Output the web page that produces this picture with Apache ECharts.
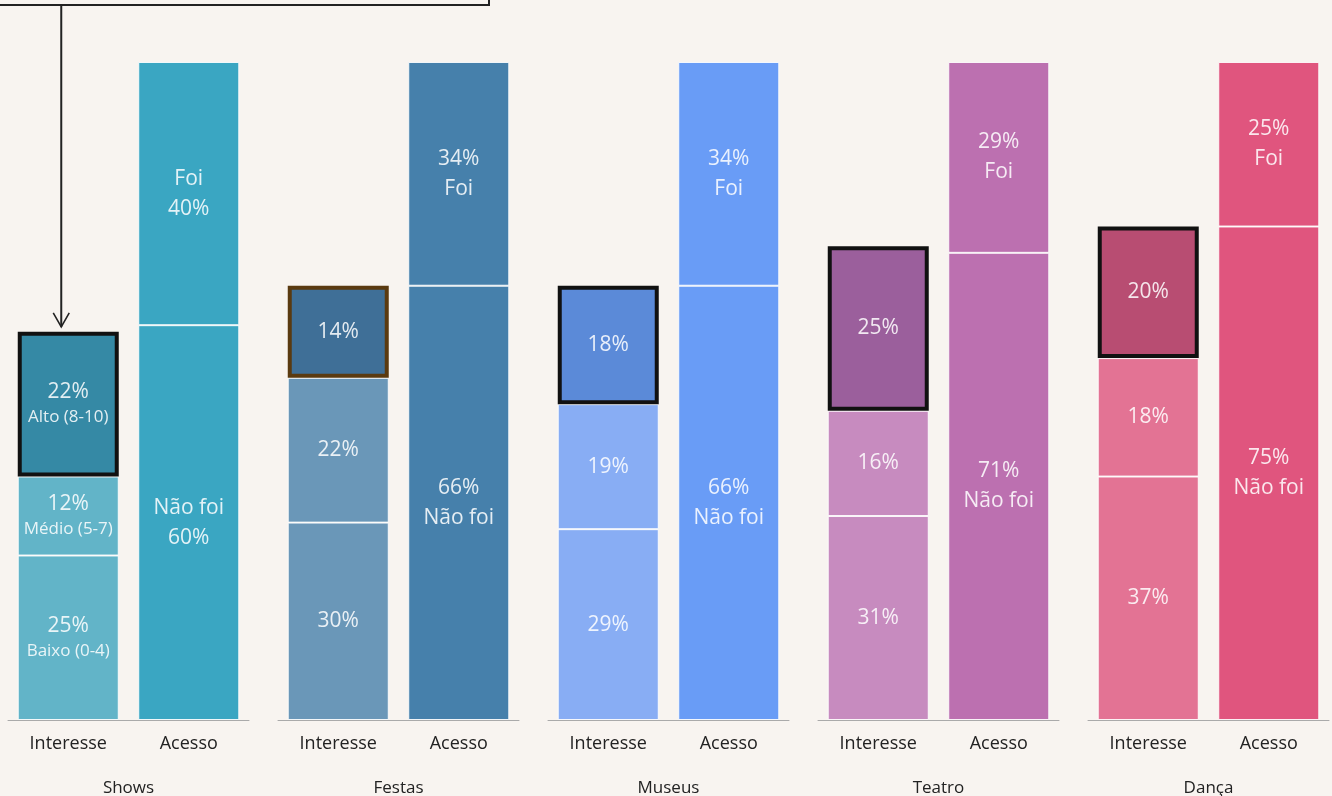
<!DOCTYPE html>
<html>
<head>
<meta charset="utf-8">
<style>
  html, body { margin: 0; padding: 0; background: #f8f4f0; }
  #chart { width: 1332px; height: 796px; }
</style>
<script src="https://cdn.jsdelivr.net/npm/echarts@6/dist/echarts.min.js"></script>
</head>
<body>
<div id="chart"></div>
<script>
// Culture activities: interest level vs. actual access
const groups = ['Shows', 'Festas', 'Museus', 'Teatro', 'Dança'];
const barNames = ['Interesse', 'Acesso'];
const levelNames = ['Baixo (0-4)', 'Médio (5-7)', 'Alto (8-10)'];
const interesseBaixo = [25, 30, 29, 31, 37];
const interesseMedio = [12, 22, 19, 16, 18];
const interesseAlto = [22, 14, 18, 25, 20];
const acessoNaoFoi = [60, 66, 66, 71, 75];
const acessoFoi = [40, 34, 34, 29, 25];

// palette per activity: [low/medium interest, high interest, access]
const palette = [
  ['#62b4c8', '#3589a5', '#3aa6c2'],
  ['#6a97b8', '#3f6f97', '#4680ab'],
  ['#88adf4', '#5b8ad8', '#699cf6'],
  ['#c78bbf', '#9b5f9c', '#bc70b0'],
  ['#e37394', '#b84d72', '#e0557e']
];
const highlightBorder = ['#111111', '#5a3a10', '#111111', '#111111', '#111111'];

const FONT = '"Open Sans", "Noto Sans", sans-serif';
const labelColor = 'rgba(255,255,255,0.86)';
const sepColor = 'rgba(255,255,255,0.85)';

const chart = echarts.init(document.getElementById('chart'), null, { renderer: 'canvas' });

const grids = [], xAxes = [], yAxes = [], series = [];
groups.forEach((g, i) => {
  grids.push({ left: 8 + i * 270, width: 241, top: 62, bottom: 76, outerBoundsMode: 'none', containLabel: false });
  xAxes.push({
    gridIndex: i, type: 'category', data: barNames,
    name: g, nameLocation: 'middle', nameGap: 60,
    nameTextStyle: { fontFamily: FONT, fontSize: 17, color: '#222' },
    axisLine: { lineStyle: { color: '#aaa', width: 1 } },
    axisTick: { show: false },
    axisLabel: { fontFamily: FONT, fontSize: 18, color: '#222', margin: 15 }
  });
  yAxes.push({
    gridIndex: i, type: 'value', min: 0, max: 100,
    show: false, splitLine: { show: false }
  });

  const pct = v => v + '%';
  const rich = {
    p: { fontFamily: FONT, fontSize: 21, color: labelColor, lineHeight: 26 },
    s: { fontFamily: FONT, fontSize: 17, color: labelColor, lineHeight: 24 },
    a: { fontFamily: FONT, fontSize: 21, color: labelColor, lineHeight: 30 }
  };
  const interestLabel = lvl => p => (i === 0)
    ? '{p|' + pct(p.value) + '}\n{s|' + levelNames[lvl] + '}'
    : '{p|' + pct(p.value) + '}';
  const accessLabel = name => p => (i === 0)
    ? '{a|' + name + '}\n{a|' + pct(p.value) + '}'
    : '{a|' + pct(p.value) + '}\n{a|' + name + '}';

  const base = {
    type: 'bar', xAxisIndex: i, yAxisIndex: i, stack: 'g' + i,
    barWidth: 101, barGap: '0%', animation: false,
    label: { show: true, position: 'inside', rich: rich }
  };
  const seg = (val, color, border, bw) => ({
    value: val,
    itemStyle: { color: color, borderColor: border, borderWidth: bw }
  });

  series.push(Object.assign({}, base, {
    name: levelNames[0],
    data: [seg(interesseBaixo[i], palette[i][0], sepColor, 1), '-'],
    label: Object.assign({}, base.label, { formatter: interestLabel(0) })
  }));
  series.push(Object.assign({}, base, {
    name: levelNames[1],
    data: [seg(interesseMedio[i], palette[i][0], sepColor, 1), '-'],
    label: Object.assign({}, base.label, { formatter: interestLabel(1) })
  }));
  series.push(Object.assign({}, base, {
    name: levelNames[2], z: 5,
    data: [seg(interesseAlto[i], palette[i][1], highlightBorder[i], 4), '-'],
    label: Object.assign({}, base.label, { formatter: interestLabel(2) })
  }));
  series.push(Object.assign({}, base, {
    name: 'Não foi',
    data: ['-', seg(acessoNaoFoi[i], palette[i][2], sepColor, 1)],
    label: Object.assign({}, base.label, { formatter: accessLabel('Não foi') })
  }));
  series.push(Object.assign({}, base, {
    name: 'Foi',
    data: ['-', seg(acessoFoi[i], palette[i][2], sepColor, 1)],
    label: Object.assign({}, base.label, { formatter: accessLabel('Foi') })
  }));
});

chart.setOption({
  backgroundColor: '#f8f4f0',
  animation: false,
  grid: grids, xAxis: xAxes, yAxis: yAxes, series: series
});

// Callout box and arrow pointing at the top of the first "Interesse" stack
const topVal = interesseBaixo[0] + interesseMedio[0] + interesseAlto[0];
const tip = chart.convertToPixel({ xAxisIndex: 0, yAxisIndex: 0 }, [barNames[0], topVal]);
const arrowX = tip[0] - 7;
const arrowEnd = tip[1] - 5;
chart.setOption({
  graphic: [
    {
      type: 'rect', silent: true,
      shape: { x: -10, y: -60, width: 499, height: 65 },
      style: { fill: 'none', stroke: '#222', lineWidth: 2 }
    },
    {
      type: 'line', silent: true,
      shape: { x1: arrowX, y1: 5, x2: arrowX, y2: arrowEnd },
      style: { stroke: '#222', lineWidth: 2 }
    },
    {
      type: 'polyline', silent: true,
      shape: { points: [[arrowX - 8, arrowEnd - 14], [arrowX, arrowEnd], [arrowX + 8, arrowEnd - 14]] },
      style: { stroke: '#222', lineWidth: 1.6, fill: 'none' }
    }
  ]
});
</script>
</body>
</html>
